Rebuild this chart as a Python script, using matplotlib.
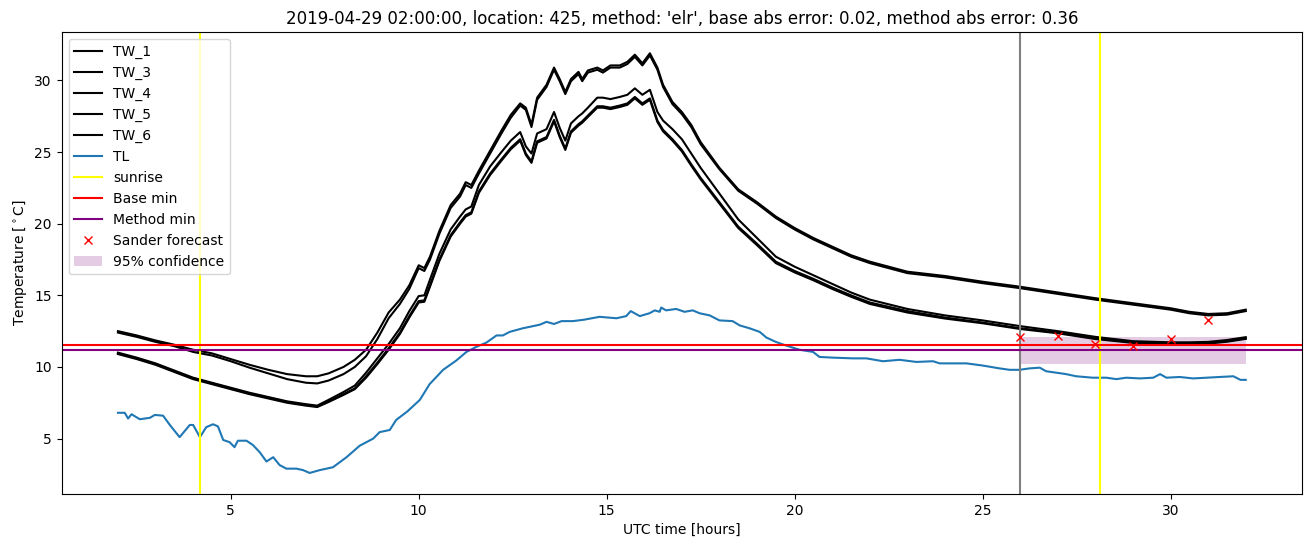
import matplotlib
matplotlib.use('Agg')
from matplotlib import pyplot as plt

# wall temperature sensors (hours UTC)
tw_hours = [2.0, 2.5, 3.0, 3.5, 4.0, 4.5, 5.0, 5.5, 6.0, 6.5, 7.0, 7.3, 7.6, 8.0, 8.3, 8.6, 8.9, 9.2,
            9.5, 9.75, 10.0, 10.15, 10.3, 10.55, 10.85, 11.1, 11.25, 11.4, 11.6, 11.9, 12.2, 12.45,
            12.7, 12.85, 13.0, 13.15, 13.4, 13.6, 13.75, 13.9, 14.05, 14.25, 14.35, 14.5, 14.75,
            14.9, 15.1, 15.35, 15.55, 15.75, 15.95, 16.15, 16.35, 16.5, 16.75, 17.0, 17.25, 17.5,
            18.0, 18.5, 19.0, 19.5, 20.0, 20.5, 21.0, 21.5, 22.0, 23.0, 24.0, 25.0, 26.0, 27.0,
            28.0, 29.0, 30.0, 30.5, 31.0, 31.5, 32.0]

tw_1 = [12.5, 12.2, 11.85, 11.55, 11.2, 10.95, 10.55, 10.15, 9.8, 9.5, 9.35, 9.35, 9.55, 10.0, 10.5,
        11.2, 12.4, 13.8, 14.7, 15.7, 17.1, 16.9, 17.7, 19.5, 21.3, 22.1, 22.9, 22.7, 23.7, 25.1,
        26.5, 27.6, 28.4, 28.1, 26.9, 28.8, 29.7, 30.9, 30.1, 29.2, 30.1, 30.6, 30.1, 30.7, 30.9,
        30.7, 31.05, 31.05, 31.3, 31.8, 31.2, 31.9, 30.9, 29.7, 28.5, 27.8, 26.9, 25.7,
        23.9, 22.4, 21.5, 20.5, 19.7, 19.0, 18.4, 17.8, 17.35, 16.65, 16.35, 15.95, 15.6, 15.2,
        14.8, 14.45, 14.1, 13.85, 13.7, 13.75, 14.0]
tw_3 = [12.4, 12.1, 11.75, 11.45, 11.05, 10.8, 10.4, 9.95, 9.55, 9.15, 8.9, 8.85, 9.05, 9.5, 10.0,
        10.75, 11.95, 13.4, 14.4, 15.45, 16.9, 16.7, 17.5, 19.3, 21.1, 21.9, 22.7, 22.5, 23.5, 24.9,
        26.3, 27.4, 28.25, 27.95, 26.75, 28.65, 29.55, 30.75, 29.95, 29.05, 29.95, 30.45, 29.95, 30.55, 30.75,
        30.55, 30.9, 30.9, 31.15, 31.65, 31.05, 31.75, 30.75, 29.55, 28.35, 27.65, 26.75, 25.55,
        23.8, 22.3, 21.4, 20.4, 19.6, 18.9, 18.3, 17.7, 17.25, 16.55, 16.25, 15.85, 15.5, 15.1,
        14.7, 14.35, 14.0, 13.75, 13.6, 13.65, 13.9]
tw_4 = [11.0, 10.65, 10.25, 9.75, 9.25, 8.9, 8.55, 8.2, 7.9, 7.6, 7.4, 7.3, 7.7, 8.25, 8.7,
        9.6, 10.6, 11.6, 12.7, 13.9, 14.95, 15.0, 16.1, 17.9, 19.6, 20.5, 21.0, 21.2, 22.7, 24.0,
        25.0, 25.8, 26.4, 25.4, 24.9, 26.3, 26.6, 27.8, 26.7, 25.8, 27.0, 27.5, 27.7, 28.1, 28.8,
        28.8, 28.7, 28.85, 29.0, 29.45, 29.0, 29.35, 27.8, 27.2, 26.6, 25.9, 24.9, 23.9,
        22.1, 20.3, 19.0, 17.7, 17.0, 16.4, 15.8, 15.2, 14.7, 14.05, 13.6, 13.25, 12.85, 12.5,
        12.1, 11.8, 11.72, 11.72, 11.75, 11.88, 12.08]
tw_5 = [10.95, 10.6, 10.2, 9.7, 9.2, 8.85, 8.5, 8.15, 7.85, 7.55, 7.35, 7.25, 7.6, 8.1, 8.5,
        9.35, 10.3, 11.3, 12.4, 13.55, 14.6, 14.65, 15.7, 17.5, 19.2, 20.1, 20.6, 20.8, 22.25, 23.5,
        24.5, 25.3, 25.9, 24.9, 24.35, 25.75, 26.05, 27.25, 26.15, 25.25, 26.45, 26.95, 27.15, 27.55, 28.2,
        28.2, 28.1, 28.25, 28.4, 28.85, 28.4, 28.75, 27.2, 26.55, 25.9, 25.15, 24.15, 23.2,
        21.5, 19.8, 18.6, 17.35, 16.7, 16.15, 15.55, 15.0, 14.5, 13.9, 13.45, 13.1, 12.7, 12.4,
        12.0, 11.72, 11.65, 11.65, 11.68, 11.8, 12.0]
tw_6 = [10.9, 10.55, 10.15, 9.65, 9.15, 8.8, 8.45, 8.1, 7.8, 7.5, 7.3, 7.2, 7.55, 8.05, 8.45,
        9.25, 10.2, 11.2, 12.3, 13.45, 14.5, 14.55, 15.6, 17.4, 19.1, 20.0, 20.5, 20.7, 22.15, 23.4,
        24.4, 25.2, 25.8, 24.8, 24.25, 25.65, 25.95, 27.15, 26.05, 25.15, 26.35, 26.85, 27.05, 27.45, 28.1,
        28.1, 28.0, 28.15, 28.3, 28.75, 28.3, 28.65, 27.1, 26.45, 25.8, 25.05, 24.05, 23.1,
        21.4, 19.7, 18.5, 17.25, 16.6, 16.05, 15.45, 14.9, 14.4, 13.8, 13.38, 13.05, 12.65, 12.35,
        11.95, 11.68, 11.6, 11.6, 11.63, 11.76, 11.96]

# air temperature
tl_hours = [2.0, 2.18, 2.27, 2.36, 2.58, 2.85, 2.98, 3.2, 3.38, 3.64, 3.91, 4.0, 4.18, 4.35, 4.53,
            4.66, 4.8, 4.97, 5.1, 5.19, 5.42, 5.59, 5.77, 5.95, 6.13, 6.3, 6.48, 6.75, 6.92, 7.1,
            7.37, 7.72, 8.08, 8.43, 8.79, 8.96, 9.23, 9.4, 9.7, 10.03, 10.29, 10.65, 11.0, 11.27,
            11.53, 11.8, 12.07, 12.24, 12.42, 12.77, 12.95, 13.22, 13.4, 13.6, 13.8, 14.1, 14.4,
            14.81, 15.26, 15.52, 15.64, 15.88, 16.14, 16.28, 16.41, 16.45, 16.58, 16.85, 17.07,
            17.29, 17.47, 17.74, 18.0, 18.35, 18.54, 18.8, 19.07, 19.25, 19.5, 19.77, 20.13, 20.49,
            20.66, 21.02, 21.56, 21.91, 22.35, 22.79, 23.24, 23.68, 23.86, 24.57, 25.0, 25.45,
            25.72, 25.98, 26.25, 26.52, 26.69, 26.96, 27.22, 27.49, 27.93, 28.29, 28.56, 28.82,
            29.18, 29.54, 29.72, 29.89, 30.24, 30.6, 30.96, 31.3, 31.67, 31.86, 32.0]
tl = [6.8, 6.8, 6.4, 6.7, 6.35, 6.45, 6.65, 6.6, 5.95, 5.1, 5.95, 5.95, 5.1, 5.8, 6.0,
      5.85, 4.9, 4.75, 4.4, 4.85, 4.85, 4.55, 4.05, 3.4, 3.7, 3.15, 2.9, 2.9, 2.8, 2.6,
      2.8, 3.0, 3.7, 4.5, 5.0, 5.45, 5.6, 6.3, 6.9, 7.7, 8.8, 9.8, 10.45, 11.05,
      11.4, 11.7, 12.2, 12.2, 12.45, 12.7, 12.8, 12.95, 13.15, 13.0, 13.2, 13.2, 13.3,
      13.5, 13.4, 13.55, 13.9, 13.55, 13.75, 13.95, 13.85, 14.15, 13.95, 14.05, 13.85,
      13.95, 13.75, 13.6, 13.25, 13.2, 12.9, 12.7, 12.45, 12.05, 11.75, 11.5, 11.2, 11.05,
      10.7, 10.65, 10.6, 10.6, 10.4, 10.5, 10.35, 10.4, 10.25, 10.25, 10.1, 9.9,
      9.8, 9.8, 9.9, 9.95, 9.7, 9.6, 9.5, 9.35, 9.25, 9.25, 9.15, 9.25,
      9.2, 9.25, 9.5, 9.25, 9.3, 9.2, 9.25, 9.3, 9.35, 9.1, 9.1]

sunrise = [4.17, 28.13]
forecast_start = 26.0
base_min = 11.56
method_min = 11.17

sander_hours = [26, 27, 28, 29, 30, 31]
sander_temp = [12.1, 12.17, 11.63, 11.47, 11.93, 13.26]

conf_hours = [26, 32]
conf_low = [10.24, 10.24]
conf_high = [12.07, 12.07]

fig, ax = plt.subplots(figsize=(13.1, 5.47), dpi=100)
fig.subplots_adjust(left=0.047, right=0.994, top=0.941, bottom=0.097)

for name, vals in [('TW_1', tw_1), ('TW_3', tw_3), ('TW_4', tw_4), ('TW_5', tw_5), ('TW_6', tw_6)]:
    ax.plot(tw_hours, vals, c='k', label=name)
ax.plot(tl_hours, tl, label='TL')

ax.axvline(sunrise[0], c='yellow', label='sunrise')
ax.axvline(sunrise[1], c='yellow')
ax.axvline(forecast_start, c='grey')
ax.axhline(base_min, c='red', label='Base min')
ax.axhline(method_min, c='purple', label='Method min')
ax.plot(sander_hours, sander_temp, 'rx', label='Sander forecast')
ax.fill_between(conf_hours, conf_low, conf_high, color='purple', alpha=0.2, lw=0,
                label='95% confidence')

ax.set_xlabel('UTC time [hours]')
ax.set_ylabel(r'Temperature [$^\circ$C]')
ax.set_title("2019-04-29 02:00:00, location: 425, method: 'elr', base abs error: 0.02, "
             "method abs error: 0.36")
ax.legend(loc='upper left')

plt.savefig('out.png', dpi=100)
